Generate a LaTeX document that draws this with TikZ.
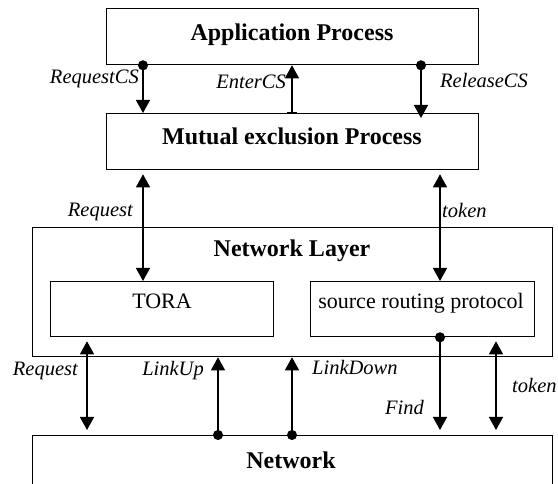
\documentclass[tikz,border=0pt]{standalone}
\usepackage{fontspec}
\setmainfont{Liberation Serif}
\usetikzlibrary{arrows.meta,calc}
\tikzset{
  mytri/.tip={Triangle[width=14pt,length=13pt]},
  mydot/.tip={Circle[length=10pt]},
  mybar/.tip={Bar[width=10pt]},
}
\begin{document}
\begin{tikzpicture}[x=1pt,y=-1pt,
  box/.style={draw, line width=1.3pt, inner sep=0pt, anchor=north west},
  title/.style={font=\fontsize{24}{24}\selectfont\bfseries, inner sep=0pt, anchor=base},
  plain/.style={font=\fontsize{22}{22}\selectfont, inner sep=0pt, anchor=base},
  lab/.style={font=\fontsize{20.5}{20.5}\selectfont\itshape, inner sep=0pt},
  conn/.style={line width=1.3pt},
]
\useasboundingbox (0,0) rectangle (558,484);
\clip (0,0) rectangle (558,484);

% boxes
\node[box, minimum width=372pt, minimum height=56pt] (app) at (106,8) {};
\node[box, minimum width=372pt, minimum height=56pt] (mutex) at (106,113) {};
\node[box, minimum width=520pt, minimum height=129pt] (netlayer) at (32,227) {};
\node[box, minimum width=223pt, minimum height=55pt] (tora) at (50,281) {};
\node[box, minimum width=224pt, minimum height=55pt] (srp) at (310,281) {};
\node[box, minimum width=520pt, minimum height=90pt] (network) at (32,435) {};

% titles
\node[title] (appT) at (292,41) {Application Process};
\node[title] (mutexT) at (292,145) {Mutual exclusion Process};
\node[title] (netlayerT) at (292,257) {Network Layer};
\node[plain] (toraT) at (162,309) {TORA};
\node[plain] (srpT) at (421,309) {source routing protocol};
\node[title] (networkT) at (291,468) {Network};

% columns
\coordinate (xa) at (143,0);
\coordinate (xb) at (292,0);
\coordinate (xc) at (421,0);
\coordinate (xd) at (440,0);
\coordinate (xe) at (87,0);
\coordinate (xf) at (218,0);
\coordinate (xg) at (496,0);

% connectors
\draw[conn, mydot-mytri, shorten <=-5pt] (app.south -| xa) -- (mutex.north -| xa);
\draw[conn, mybar-mytri] (mutex.north -| xb) -- (app.south -| xb);
\draw[conn, mydot-mytri, shorten <=-5pt, shorten >=-5pt] (app.south -| xc) -- (mutex.north -| xc);
\draw[conn, mytri-mytri, shorten <=4pt] (mutex.south -| xa) -- (tora.north -| xa);
\draw[conn, mytri-mytri, shorten <=4pt] (mutex.south -| xd) -- (srp.north -| xd);
\draw[conn, mytri-mytri, shorten <=4pt, shorten >=5pt] (tora.south -| xe) -- (network.north -| xe);
\draw[conn, mydot-mytri, shorten <=-5pt] (network.north -| xf) -- (netlayer.south -| xf);
\draw[conn, mydot-mytri, shorten <=-5pt] (network.north -| xb) -- (netlayer.south -| xb);
\draw[conn, mydot-mytri, shorten <=-5pt, shorten >=5pt] (srp.south -| xd) -- (network.north -| xd);
\draw[conn, mytri-mytri, shorten <=4pt, shorten >=5pt] (srp.south -| xg) -- (network.north -| xg);

% labels
\node[lab, anchor=base east] (l1) at (139,84) {RequestCS};
\node[lab, anchor=base east] (l2) at (286,89) {EnterCS};
\node[lab, anchor=base west] (l3) at (440,88) {ReleaseCS};
\node[lab, anchor=base east] (l4) at (133,217) {Request};
\node[lab, anchor=base west] (l5) at (442,218) {token};
\node[lab, anchor=base east] (l6) at (78,376) {Request};
\node[lab, anchor=base east] (l7) at (204,376) {LinkUp};
\node[lab, anchor=base west] (l8) at (312,374) {LinkDown};
\node[lab, anchor=base west] (l9) at (512,393) {token};
\node[lab, anchor=base east] (l10) at (424,414) {Find};
\end{tikzpicture}
\end{document}
